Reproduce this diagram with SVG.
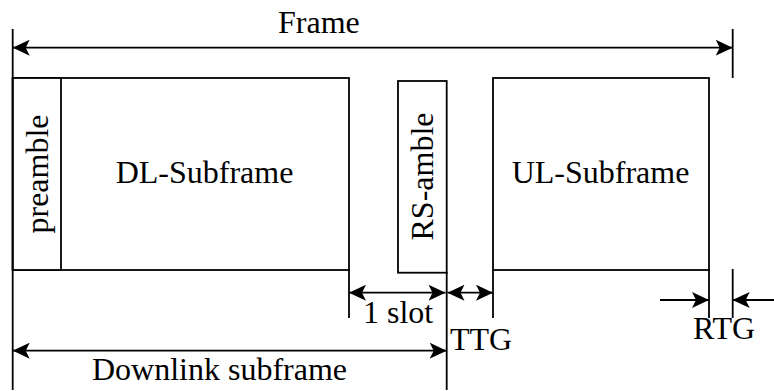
<svg xmlns="http://www.w3.org/2000/svg" width="774" height="391" viewBox="0 0 774 391">
<style>
.ln{stroke:#000;stroke-width:1.8;fill:none}
.bx{stroke:#000;stroke-width:1.8;fill:#fff}
.t{font-family:"Liberation Serif","Times New Roman",serif;font-size:32px;fill:#000}
.ar{stroke:#000;stroke-width:1.8;fill:none;marker-end:url(#ah)}
.da{stroke:#000;stroke-width:1.8;fill:none;marker-start:url(#ahs);marker-end:url(#ah)}
</style>
<defs>
<marker id="ah" markerUnits="userSpaceOnUse" markerWidth="17" markerHeight="16" refX="17" refY="8" orient="auto" viewBox="0 0 17 16">
<path d="M0,0 L17,8 L0,16 L4,8 Z" fill="#000"/>
</marker>
<marker id="ahs" markerUnits="userSpaceOnUse" markerWidth="17" markerHeight="16" refX="0" refY="8" orient="auto" viewBox="0 0 17 16">
<path d="M17,0 L0,8 L17,16 L13,8 Z" fill="#000"/>
</marker>
</defs>
<g id="dl-subframe">
<rect class="bx" x="12.7" y="78" width="336.3" height="192"/>
<text class="t" x="204.5" y="183" text-anchor="middle">DL-Subframe</text>
</g>
<g id="preamble">
<rect class="bx" x="12.7" y="78" width="48.3" height="192"/>
<text class="t" transform="translate(48,174) rotate(-90)" text-anchor="middle">preamble</text>
</g>
<g id="rs-amble">
<rect class="bx" x="398" y="81" width="48.7" height="191.7"/>
<text class="t" transform="translate(433,176.5) rotate(-90)" text-anchor="middle">RS-amble</text>
</g>
<g id="ul-subframe">
<rect class="bx" x="493" y="78" width="216" height="192"/>
<text class="t" x="600.5" y="183" text-anchor="middle">UL-Subframe</text>
</g>
<g id="connectors">
<line class="ln" x1="12.7" y1="29" x2="12.7" y2="390"/>
<line class="ln" x1="732.7" y1="29" x2="732.7" y2="78"/>
<line class="da" x1="12.7" y1="47.7" x2="732.7" y2="47.7"/>
<line class="ln" x1="349" y1="270" x2="349" y2="318"/>
<line class="ln" x1="446.7" y1="272" x2="446.7" y2="390"/>
<line class="ln" x1="493" y1="270" x2="493" y2="318"/>
<line class="ln" x1="709" y1="270" x2="709" y2="318"/>
<line class="ln" x1="732.7" y1="269" x2="732.7" y2="318"/>
<line class="da" x1="349" y1="292.7" x2="445.5" y2="292.7"/>
<line class="da" x1="447.5" y1="292.7" x2="493" y2="292.7"/>
<line class="da" x1="12.7" y1="350.7" x2="446.7" y2="350.7"/>
<line class="ar" x1="660" y1="300" x2="709" y2="300"/>
<line class="ar" x1="774" y1="300" x2="732.7" y2="300"/>
</g>
<g id="labels">
<text class="t" x="278" y="33">Frame</text>
<text class="t" x="363" y="323">1 slot</text>
<text class="t" x="450" y="350">TTG</text>
<text class="t" x="693" y="339">RTG</text>
<text class="t" x="92" y="380">Downlink subframe</text>
</g>
</svg>
